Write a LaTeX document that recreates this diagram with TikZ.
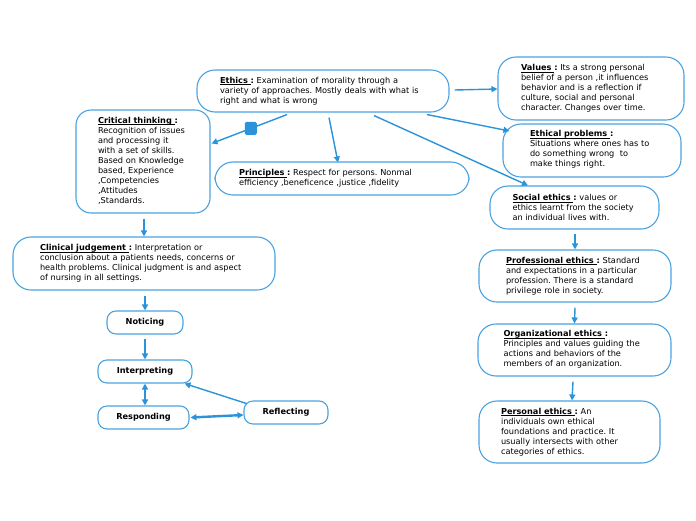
\documentclass[tikz,border=0pt]{standalone}
\usepackage{fontspec}
\setmainfont{DejaVu Sans}
\usepackage{xcolor}
\usepackage{tikz}
\usetikzlibrary{arrows.meta,calc}

\definecolor{linkblue}{HTML}{2A93DA}
\definecolor{edgeblue}{HTML}{4AA2E0}
\newcommand{\hd}[1]{\underline{\smash{\textbf{#1}}}\textbf{:}}
\frenchspacing

\begin{document}
\begin{tikzpicture}[x=1pt, y=-1pt,
  topic/.style={rectangle, draw=edgeblue, line width=1.1pt, fill=white, rounded corners=18pt,
                font=\fontsize{8.2}{10}\selectfont, align=left, inner sep=0pt},
  leaf/.style={rectangle, draw=edgeblue, line width=1.1pt, fill=white, rounded corners=9pt,
               font=\fontsize{8.2}{10}\selectfont\bfseries, align=center, inner sep=0pt,
               minimum height=23pt},
  arr/.style={-{Triangle[length=6pt,width=6pt]}, line width=1.4pt, linkblue},
  biarr/.style={{Triangle[length=6pt,width=6pt]}-{Triangle[length=6pt,width=6pt]}, line width=1.4pt, linkblue}
]
\useasboundingbox (0,0) rectangle (696,520);

% main topic
\node[topic, minimum width=252pt, minimum height=42pt, text width=206pt] (ethics) at (323,91)
  {\hd{Ethics } Examination of morality through a\\variety of approaches. Mostly deals with what is\\right and what is wrong};

% right column
\node[topic, minimum width=186pt, minimum height=63pt, text width=140pt] (values) at (591,88.5)
  {\hd{Values } Its a strong personal\\belief of a person ,it influences\\behavior and is a reflection if\\culture, social and personal\\character. Changes over time.};
\node[topic, minimum width=178pt, minimum height=53pt, text width=124pt] (probs) at (592,150.5)
  {\hd{Ethical problems }\\Situations where ones has to\\do something wrong\ \ to\\make things right.};
\node[topic, minimum width=169pt, minimum height=43pt, text width=124pt] (social) at (574.5,207.5)
  {\hd{Social ethics } values or\\ethics learnt from the society\\an individual lives with.};
\node[topic, minimum width=192pt, minimum height=52pt, text width=138pt] (prof) at (575,276)
  {\hd{Professional ethics } Standard\\and expectations in a particular\\profession. There is a standard\\privilege role in society.};
\node[topic, minimum width=193pt, minimum height=52pt, text width=142pt] (org) at (574.5,350)
  {\hd{Organizational ethics }\\Principles and values guiding the\\actions and behaviors of the\\members of an organization.};
\node[topic, minimum width=181pt, minimum height=62pt, text width=137pt] (pers) at (569.5,432)
  {\hd{Personal ethics } An\\individuals own ethical\\foundations and practice. It\\usually intersects with other\\categories of ethics.};

% left side
\node[topic, rounded corners=15pt, minimum width=134pt, minimum height=103pt, text width=90pt] (crit) at (143,161.5)
  {\hd{Critical thinking }\\Recognition of issues\\and processing it\\with a set of skills.\\Based on Knowledge\\based, Experience\\,Competencies\\,Attitudes\\,Standards.};
\node[topic, minimum width=254pt, minimum height=33pt, text width=206pt] (princ) at (342,178.5)
  {\hd{Principles } Respect for persons. Nonmal\\efficiency ,beneficence ,justice ,fidelity};
\node[topic, minimum width=262pt, minimum height=53pt, text width=208pt] (clin) at (144,263.5)
  {\hd{Clinical judgement } Interpretation or\\conclusion about a patients needs, concerns or\\health problems. Clinical judgment is and aspect\\of nursing in all settings.};

% clinical judgement steps
\node[leaf, minimum width=76pt] (notice) at (145,322.5) {Noticing};
\node[leaf, minimum width=94pt] (interp) at (145,371.5) {Interpreting};
\node[leaf, minimum width=91pt] (resp) at (143.5,417.5) {Responding};
\node[leaf, minimum width=84pt] (refl) at (286,412.5) {Reflecting};

% connectors
\draw[arr] ($(ethics.south)+(-36,2)$) -- ($(crit.east)+(1,-18)$)
  node[pos=0.48, fill=linkblue, rounded corners=1.5pt, minimum width=12pt, minimum height=13pt, inner sep=0pt] (mark) {};
\draw[arr] ($(ethics.south)+(6,5)$) -- ($(princ.north)+(-4,1)$);
\draw[arr] ($(ethics.south)+(51,3)$) -- ($(social.north)+(-46.5,0)$);
\draw[arr] ($(ethics.south)+(104,2)$) -- ($(probs.west)+(7,-19.5)$);
\draw[arr] ($(ethics.east)+(5,-1)$) -- ($(values.west)+(0,0.5)$);
\draw[arr] ($(crit.south)+(1,5)$) -- (clin.north);
\draw[arr] ($(social.south)+(0.5,4)$) -- (prof.north);
\draw[arr] ($(prof.south)+(0,5)$) -- (org.north);
\draw[arr] ($(org.south)+(-1.5,5)$) -- ($(pers.north)+(2.5,0)$);
\draw[arr] ($(clin.south)+(1,5)$) -- (notice.north);
\draw[arr] ($(notice.south)+(0,4)$) -- (interp.north);
\draw[biarr] (interp.south) -- ($(resp.north)+(1.5,0)$);
\draw[arr] ($(refl.west)+(3,-9)$) -- ($(interp.south east)+(-8,0)$);
\draw[biarr, line width=2.4pt] ($(resp.east)+(1,0)$) -- ($(refl.west)+(0,2.5)$);
\end{tikzpicture}
\end{document}
